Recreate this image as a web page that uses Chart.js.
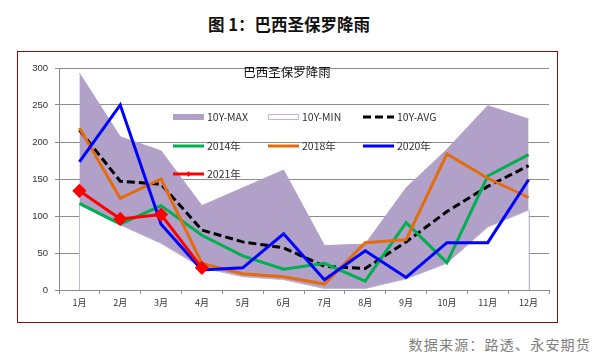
<!DOCTYPE html>
<html>
<head>
<meta charset="utf-8">
<script src="https://cdn.jsdelivr.net/npm/chart.js@4.4.1/dist/chart.umd.min.js"></script>
<style>
  html, body { margin:0; padding:0; background:#fff; }
  body { width:594px; height:362px; position:relative; overflow:hidden; font-family:"Noto Sans CJK SC","Noto Sans",sans-serif; }
  #title { position:absolute; left:0; width:578px; top:12px; text-align:center; font-size:16.5px; font-weight:bold; color:#111; line-height:24px; }
  #frame { position:absolute; left:17px; top:51px; width:541px; height:272px; box-sizing:border-box; border:1.5px solid #8B0A0A; }
  #c { position:absolute; left:18px; top:52px; }
  #source { position:absolute; right:3px; top:334px; font-size:14px; color:#7f7f7f; letter-spacing:1.2px; line-height:20px; }
</style>
</head>
<body>
<div id="title">图 1：巴西圣保罗降雨</div>
<div id="frame"></div>
<canvas id="c" width="539" height="270"></canvas>
<div id="source">数据来源：路透、永安期货</div>
<script>
// ---- data ----
const months = ['1月','2月','3月','4月','5月','6月','7月','8月','9月','10月','11月','12月'];
const max10 = [293, 207, 188, 114, 138, 162, 60, 62, 138, 190, 249, 231];
const min10 = [115, 88, 63, 30, 18, 14, 2, 2, 15, 36, 85, 108];
const avg10 = [216, 147, 143, 81, 65, 57, 32, 29, 65, 106, 140, 168];
const y2014 = [117, 89, 114, 74, 46, 28, 36, 12, 91, 37, 154, 183];
const y2018 = [219, 124, 150, 36, 22, 18, 8, 64, 68, 184, 151, 125];
const y2020 = [173, 250, 89, 27, 30, 76, 14, 53, 17, 64, 64, 149];
const y2021 = [134, 96, 102, 30];
const yTicks = [0, 50, 100, 150, 200, 250, 300];
const chartTitle = '巴西圣保罗降雨';

const PURPLE = '#B1A0C7';
const GRID = '#8c8c8c';

// legend: drawn inside the plot area on a 3-column grid
const legendPlugin = {
  id: 'innerLegend',
  afterDatasetsDraw(chart) {
    const ctx = chart.ctx, a = chart.chartArea;
    const colX = [114, 209, 304], rowY = [49, 78, 106];
    ctx.save();
    ctx.font = '10.5px "Liberation Sans Narrow","Noto Sans CJK SC",sans-serif';
    ctx.textBaseline = 'middle';
    chart.data.datasets.forEach((ds, i) => {
      const x = a.left + colX[i % 3], y = a.top + rowY[Math.floor(i / 3)];
      const w = 31;
      if (ds.legendKind === 'box') {
        ctx.fillStyle = ds.backgroundColor;
        ctx.fillRect(x, y - 3, w, 6);
      } else if (ds.legendKind === 'outline') {
        ctx.fillStyle = '#fff';
        ctx.fillRect(x, y - 3, w, 6);
        ctx.strokeStyle = ds.borderColor; ctx.lineWidth = 1;
        ctx.strokeRect(x + 0.5, y - 2.5, w - 1, 5);
      } else {
        ctx.strokeStyle = ds.borderColor; ctx.lineWidth = 3;
        ctx.setLineDash(ds.borderDash || []);
        ctx.beginPath(); ctx.moveTo(x, y); ctx.lineTo(x + w, y); ctx.stroke();
        ctx.setLineDash([]);
        if (ds.legendKind === 'marker') {
          ctx.fillStyle = ds.borderColor;
          ctx.beginPath();
          ctx.moveTo(x + w/2, y - 3); ctx.lineTo(x + w/2 + 2, y);
          ctx.lineTo(x + w/2, y + 3); ctx.lineTo(x + w/2 - 2, y); ctx.closePath(); ctx.fill();
        }
      }
      ctx.fillStyle = '#333';
      ctx.fillText(ds.label, x + w + 3, y + 0.5);
    });
    // inner chart title
    ctx.font = '12.5px "Noto Sans CJK SC",sans-serif';
    ctx.fillStyle = '#111';
    ctx.textAlign = 'center';
    ctx.fillText(chartTitle, a.left + 228, a.top + 4);
    ctx.restore();
  }
};

// vertical end edges of the white 10Y-MIN area (Excel area border)
const edgePlugin = {
  id: 'minEdges',
  afterDatasetDraw(chart, args) {
    const ds = chart.data.datasets[args.index];
    if (!ds.drawEdges) return;
    const pts = args.meta.data, ctx = chart.ctx;
    const y0 = chart.scales.y.getPixelForValue(0);
    ctx.save();
    ctx.strokeStyle = ds.borderColor; ctx.lineWidth = 1;
    [pts[0], pts[pts.length - 1]].forEach(p => {
      ctx.beginPath(); ctx.moveTo(Math.round(p.x) + 0.5, p.y); ctx.lineTo(Math.round(p.x) + 0.5, y0); ctx.stroke();
    });
    ctx.restore();
  }
};

const lineDs = (label, data, color, order, extra) => Object.assign({
  label, data, borderColor: color, backgroundColor: color, borderWidth: 3,
  pointRadius: 0, tension: 0, fill: false, order, legendKind: 'line'
}, extra || {});

new Chart(document.getElementById('c'), {
  type: 'line',
  data: {
    labels: months,
    datasets: [
      { label: '10Y-MAX', data: max10, borderColor: PURPLE, backgroundColor: PURPLE, borderWidth: 1,
        pointRadius: 0, fill: 'origin', order: 7, legendKind: 'box' },
      { label: '10Y-MIN', data: min10, borderColor: '#C3B6D6', backgroundColor: '#ffffff', borderWidth: 1,
        pointRadius: 0, fill: 'origin', order: 6, legendKind: 'outline', drawEdges: true },
      lineDs('10Y-AVG', avg10, '#000000', 5, { borderDash: [8, 4] }),
      lineDs('2014年', y2014, '#00B050', 4),
      lineDs('2018年', y2018, '#E46C0A', 3),
      lineDs('2020年', y2020, '#0000FF', 2),
      lineDs('2021年', y2021, '#FF0000', 1, { pointRadius: 5, pointStyle: 'rectRot',
        pointBackgroundColor: '#FF0000', pointBorderColor: '#FF0000', legendKind: 'marker' })
    ]
  },
  options: {
    responsive: false,
    devicePixelRatio: 1,
    animation: false,
    layout: { padding: { top: 16, right: 6, left: 0, bottom: 0 } },
    plugins: { legend: { display: false }, tooltip: { enabled: false }, title: { display: false } },
    scales: {
      x: {
        offset: true,
        grid: { display: true, drawOnChartArea: false, drawTicks: true, tickLength: 4, offset: true, color: GRID },
        border: { display: true, color: GRID, width: 1 },
        ticks: { color: '#333', padding: 3, font: { size: 9, family: '"Noto Sans CJK SC",sans-serif' }, maxRotation: 0 },
        afterFit(s) { s.height = 32; }
      },
      y: {
        min: 0, max: 300,
        afterBuildTicks(s) { s.ticks = yTicks.map(v => ({ value: v })); },
        grid: { color: GRID, tickLength: 4, drawTicks: true },
        border: { display: true, color: GRID, width: 1 },
        ticks: { color: '#333', padding: 7, font: { size: 9.5, family: '"Liberation Sans",Arial,sans-serif' } },
        afterFit(s) { s.width = 41; }
      }
    }
  },
  plugins: [legendPlugin, edgePlugin]
});
</script>
</body>
</html>
